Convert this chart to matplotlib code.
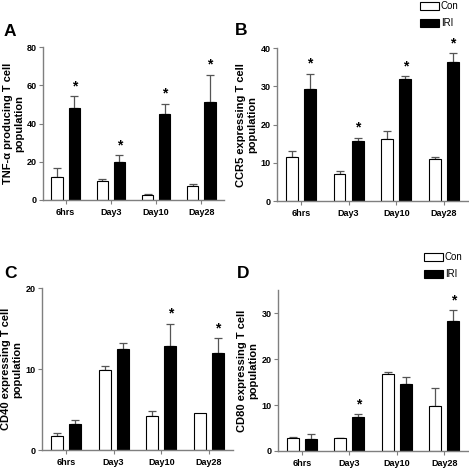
"""
Con vs IRI T cell populations, four panels
"""
import matplotlib.pyplot as plt
import matplotlib.patches as mpatches
import numpy as np

plt.rcParams['font.family'] = ['Liberation Sans', 'DejaVu Sans']

groups = ['6hrs', 'Day3', 'Day10', 'Day28']

a_con = [11.8, 9.7, 2.4, 7.3]
a_con_err = [4.7, 1.3, 0.7, 0.9]
a_iri = [48.3, 20.0, 45.0, 51.3]
a_iri_err = [6.1, 3.3, 5.4, 14.3]

b_con = [11.5, 7.0, 16.3, 11.0]
b_con_err = [1.6, 0.8, 2.0, 0.5]
b_iri = [29.4, 15.7, 31.8, 36.3]
b_iri_err = [3.9, 0.9, 0.9, 2.4]

c_con = [1.8, 9.9, 4.2, 4.6]
c_con_err = [0.3, 0.5, 0.6, 0.0]
c_iri = [3.2, 12.5, 12.9, 12.0]
c_iri_err = [0.5, 0.7, 2.7, 1.8]

d_con = [2.9, 2.8, 16.8, 9.7]
d_con_err = [0.1, 0.1, 0.4, 4.1]
d_iri = [2.7, 7.3, 14.6, 28.4]
d_iri_err = [0.9, 0.7, 1.6, 2.3]

a_stars = [True, True, True, True]
b_stars = [True, True, True, True]
c_stars = [False, False, True, True]
d_stars = [False, True, False, True]

AXIS_GREY = '#7f7f7f'
ERR_GREY = '#555555'


def draw_panel(ax, con, con_err, iri, iri_err, stars, ylim, yticks, ylabel):
    x = np.arange(len(groups))
    w = 0.25
    off = 0.19
    ax.bar(x - off, con, w, color='white', edgecolor='black', linewidth=0.8, zorder=2)
    ax.bar(x + off, iri, w, color='black', edgecolor='black', linewidth=0.8, zorder=2)
    for xs, vals, errs in [(x - off, con, con_err), (x + off, iri, iri_err)]:
        for xi, v, e in zip(xs, vals, errs):
            if e <= 0:
                continue
            ax.errorbar(xi, v, yerr=[[0], [e]], fmt='none', ecolor=ERR_GREY,
                        elinewidth=0.9, capsize=3, capthick=0.9, zorder=1)
    for xi, v, e, s in zip(x + off, iri, iri_err, stars):
        if s:
            ax.annotate('*', (xi, v + e), xytext=(0, 2), textcoords='offset points',
                        ha='center', va='bottom', fontsize=10, fontweight='bold')

    ax.set_xlim(-0.5, 3.5)
    ax.set_ylim(*ylim)
    ax.set_yticks(yticks)
    ax.set_xticks(x)
    ax.set_xticklabels(groups, fontsize=6.5, fontweight='bold')
    for lab in ax.get_yticklabels():
        lab.set_fontsize(6.5)
        lab.set_fontweight('bold')
    ax.tick_params(axis='both', direction='out', length=3, width=0.8,
                   color=AXIS_GREY, pad=1.5)
    ax.tick_params(axis='x', pad=2.5)
    ax.spines['top'].set_visible(False)
    ax.spines['right'].set_visible(False)
    for sp in ['left', 'bottom']:
        ax.spines[sp].set_color(AXIS_GREY)
        ax.spines[sp].set_linewidth(1.0)
    ax.set_ylabel(ylabel, fontsize=8, fontweight='bold', va='center',
                  linespacing=1.15)
    ax.yaxis.set_label_coords(-0.16, 0.5)


fig = plt.figure(figsize=(4.69, 4.69), dpi=100)

ax_a = fig.add_axes([0.0917, 0.5736, 0.386, 0.326])
ax_b = fig.add_axes([0.5906, 0.5714, 0.407, 0.326])
ax_c = fig.add_axes([0.0896, 0.0400, 0.407, 0.3459])
ax_d = fig.add_axes([0.5928, 0.0384, 0.405, 0.3428])

draw_panel(ax_a, a_con, a_con_err, a_iri, a_iri_err, a_stars, (0, 80), [0, 20, 40, 60, 80],
           'TNF-\u03b1 producing T cell\npopulation')
draw_panel(ax_b, b_con, b_con_err, b_iri, b_iri_err, b_stars, (0, 40), [0, 10, 20, 30, 40],
           'CCR5 expressing T cell\npopulation')
draw_panel(ax_c, c_con, c_con_err, c_iri, c_iri_err, c_stars, (0, 20), [0, 10, 20],
           'CD40 expressing T cell\npopulation')
draw_panel(ax_d, d_con, d_con_err, d_iri, d_iri_err, d_stars, (0, 35), [0, 10, 20, 30],
           'CD80 expressing T cell\npopulation')

# panel letters
for letter, px, py in [('A', 4, 36), ('B', 235, 35), ('C', 4, 278), ('D', 237, 278)]:
    fig.text(px / 469, 1 - py / 469, letter, fontsize=12.5, fontweight='bold', va='baseline')

# legends
handles = [mpatches.Patch(facecolor='white', edgecolor='black', linewidth=0.8, label='Con'),
           mpatches.Patch(facecolor='black', edgecolor='black', linewidth=0.8, label='IRI')]
for lx, ly in [(420, 1), (424, 252)]:
    fig.legend(handles=handles, loc='upper left', bbox_to_anchor=(lx / 469, 1 - ly / 469),
               frameon=False, fontsize=7, handlelength=2.0, handleheight=0.85,
               handletextpad=0.15, labelspacing=0.75, borderpad=0, borderaxespad=0)

plt.savefig('out.png', dpi=100, facecolor='white')
plt.close()
